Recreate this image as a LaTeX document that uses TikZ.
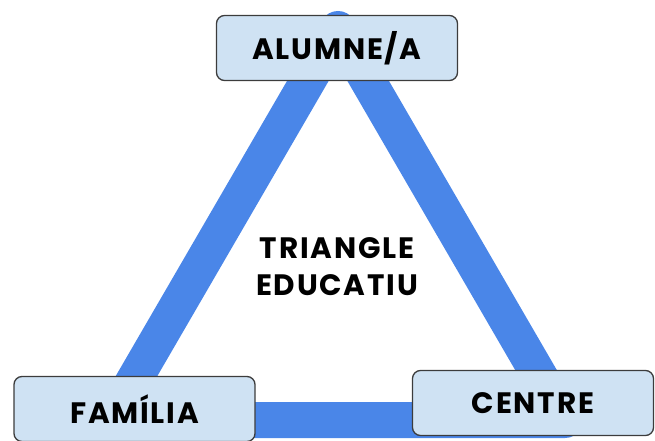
\documentclass[tikz,border=0pt]{standalone}
\usepackage{fontspec}
\setmainfont{Poppins}
\newfontfamily\lblfont[LetterSpace=6]{Poppins}
\definecolor{lineblue}{HTML}{4A86E8}
\definecolor{boxfill}{HTML}{CFE2F3}
\definecolor{boxdraw}{HTML}{3C3C3C}
\begin{document}
\begin{tikzpicture}[x=1pt,y=-1pt,
  box/.style={draw=boxdraw, fill=boxfill, line width=1.3pt, rounded corners=8pt,
    minimum width=241pt, minimum height=65pt, inner sep=0pt,
    font=\lblfont\fontsize{29.5}{32}\selectfont\bfseries, text=black},
  tri/.style={line width=36pt, draw=lineblue, line join=round, line cap=round}]
\useasboundingbox (0,0) rectangle (655,441);
\coordinate (ta) at (338,29);
\coordinate (tl) at (111,420);
\coordinate (tr) at (565,420);
\draw[tri] (ta) -- (tl) -- (tr) -- cycle;
\node[box] (alumne) at (337,48) {ALUMNE/A};
\node[box] (familia) at (134.5,409) {FAMÍLIA};
\node[box] (centre) at (533,403) {CENTRE};
\node[align=center, font=\lblfont\fontsize{29.5}{37}\selectfont\bfseries, text=black] (title) at (337,267) {TRIANGLE\\EDUCATIU};
\end{tikzpicture}
\end{document}
